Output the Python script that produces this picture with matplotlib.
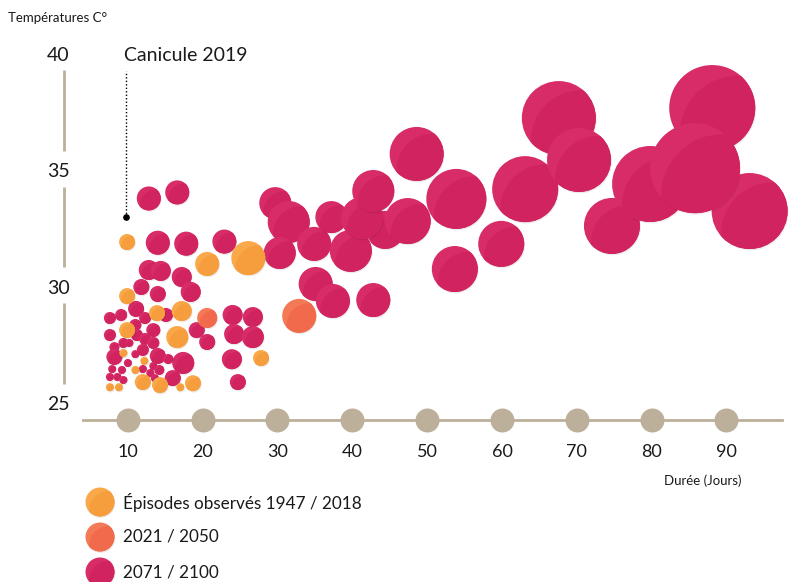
import matplotlib.pyplot as plt
import matplotlib.patheffects as pe
from matplotlib.patches import Circle
from matplotlib.transforms import ScaledTranslation

plt.rcParams['font.family'] = ['Lato', 'DejaVu Sans']

# Episodes observés 1947 / 2018 : durée (jours), température (°C), intensité
obs_duree = [9.9, 20.6, 26.1, 9.9, 13.9, 17.2, 27.8, 9.9, 16.6, 9.4, 12.2, 11.0,
             12.0, 14.3, 18.7, 17.0, 7.6, 8.8]
obs_temp = [31.93, 30.99, 31.24, 29.61, 28.88, 28.97, 26.95, 28.15, 27.85, 27.17,
            26.83, 26.44, 25.92, 25.79, 25.87, 25.70, 25.70, 25.70]
obs_intensite = [8, 12, 17, 8, 8, 10, 8, 8, 11, 4, 4, 4, 8, 8, 8, 4, 4, 4]

# Projection 2021 / 2050
p2050_duree = [20.6, 32.9]
p2050_temp = [28.67, 28.76]
p2050_intensite = [10, 17]

# Projection 2071 / 2100
p2100_duree = [12.8, 16.6, 14.0, 17.8, 22.9, 12.8, 14.4, 17.2, 18.4, 11.8, 14.0, 11.1,
               15.1, 24.0, 26.7, 24.2, 26.7, 24.7, 23.9, 7.6, 9.1, 7.6, 11.0, 12.3,
               13.4, 11.2, 19.2, 20.6, 12.3, 13.4, 8.2, 9.4, 10.2, 12.0, 11.0, 14.0,
               8.2, 17.4, 15.4, 10.0, 7.9, 9.2, 12.0, 13.4, 14.2, 13.0, 7.6, 8.6,
               9.4, 13.6, 16.0,
               29.7, 31.5, 30.3, 34.9, 37.2, 35.1, 37.4, 42.8, 39.8, 44.4, 41.3, 42.8,
               48.6, 53.7, 53.9, 59.9, 63.1, 67.6, 74.7, 79.8, 88.1, 93.1,
               47.4, 70.3, 85.8]
p2100_temp = [33.80, 34.06, 31.90, 31.86, 31.95, 30.73, 30.69, 30.43, 29.79, 30.00,
              29.70, 29.06, 28.80, 28.80, 28.71, 27.98, 27.85, 25.92, 26.90, 28.67,
              28.80, 27.94, 28.37, 28.67, 28.15, 27.94, 28.15, 27.64, 27.77, 27.60,
              27.42, 27.60, 27.60, 27.30, 27.12, 27.04, 27.00, 26.74, 26.91, 26.74,
              26.48, 26.44, 26.48, 26.61, 26.44, 26.31, 26.14, 26.14, 26.01, 26.09,
              26.09,
              33.60, 32.79, 31.46, 31.85, 33.00, 30.13, 29.40, 29.44, 31.55, 32.45,
              32.96, 34.12, 35.71, 30.77, 33.78, 31.85, 34.20, 37.25, 32.62, 34.42,
              37.68, 33.26,
              32.83, 35.45, 35.10]
p2100_intensite = [12, 12, 12, 12, 12, 10, 10, 10, 10, 8, 8, 8, 7, 10, 10, 10, 11, 8,
                   10, 6, 6, 6, 6, 6, 7, 6, 8, 8, 6, 6, 5, 5, 4, 6, 4, 8, 8, 11, 5,
                   4, 4, 4, 4, 4, 5, 4, 4, 4, 4, 4, 8,
                   16, 21, 16, 17, 16, 17, 17, 17, 21, 19, 21, 21, 27, 23, 30, 23, 33,
                   37, 28, 38, 43, 38,
                   23, 32, 45]

canicule_duree = 9.7
canicule_temp = 33.02

xticks = [10, 20, 30, 40, 50, 60, 70, 80, 90]
yticks = [25, 30, 35, 40]

beige = '#bdb09a'
couleurs = {
    'obs': ('#f9a84a', '#f69e3e'),
    '2050': ('#f47a57', '#f06a4b'),
    '2100': ('#d72c68', '#d02360'),
}

fig = plt.figure(figsize=(7.89, 5.82), dpi=100)
ax = fig.add_axes([64 / 789, 162 / 582, 725 / 789, 390 / 582])
ax.set_xlim(1.47, 98.36)
ax.set_ylim(24.29, 41.03)

ordre = [0]


def bulle(x, y, r, cle, trans, parent):
    clair, fonce = couleurs[cle]
    place = ScaledTranslation(x, y, trans)
    z = 3 + ordre[0] * 0.001
    ordre[0] += 1
    base = Circle((0, 0), r, transform=place, facecolor=clair, edgecolor='none', zorder=z)
    base.set_path_effects([pe.SimplePatchShadow(offset=(0.6, -1.0), shadow_rgbFace='k', alpha=0.08),
                           pe.Normal()])
    ombre = Circle((0.6 * r, -0.6 * r), 1.35 * r, transform=place, facecolor=fonce,
                   edgecolor='none', zorder=z + 0.0005)
    ombre.set_clip_path(base)
    if parent is ax:
        ax.add_patch(base)
        ax.add_patch(ombre)
    else:
        fig.add_artist(base)
        fig.add_artist(ombre)


for d, t, i in zip(p2100_duree, p2100_temp, p2100_intensite):
    bulle(d, t, i, '2100', ax.transData, ax)
for d, t, i in zip(obs_duree, obs_temp, obs_intensite):
    bulle(d, t, i, 'obs', ax.transData, ax)
for d, t, i in zip(p2050_duree, p2050_temp, p2050_intensite):
    bulle(d, t, i, '2050', ax.transData, ax)

ax.set_xlim(1.47, 98.36)
ax.set_ylim(24.29, 41.03)

# axes
for s in ['top', 'right', 'left']:
    ax.spines[s].set_visible(False)
ax.spines['bottom'].set_color(beige)
ax.spines['bottom'].set_linewidth(2)
ax.spines['bottom'].set_bounds(4.0, 97.4)
ax.scatter(xticks, [ax.get_ylim()[0]] * len(xticks), s=(24 * 0.72) ** 2, color=beige,
           zorder=2, clip_on=False, linewidths=0)
ax.set_xticks(xticks)
ax.set_xticklabels([str(v) for v in xticks], fontsize=13, color='#1a1a1a')
ax.tick_params(axis='x', length=0, pad=17)

ax.set_yticks(yticks)
ax.set_yticklabels([str(v) for v in yticks], fontsize=14, color='#1a1a1a')
ax.tick_params(axis='y', length=0, pad=-4)
for bas, haut in zip(yticks[:-1], yticks[1:]):
    ax.plot([0, 0], [bas + 0.85, haut - 0.7], color=beige, lw=2,
            transform=ax.get_yaxis_transform(), clip_on=False, solid_capstyle='butt')

# annotation canicule 2019
ax.plot([canicule_duree, canicule_duree], [canicule_temp, 39.25], color='black', lw=1,
        linestyle=(0, (1, 1.5)), zorder=2)
ax.plot(canicule_duree, canicule_temp, 'o', color='black', markersize=3.8, zorder=2)
ax.text(canicule_duree - 0.2, 39.95, 'Canicule 2019', fontsize=14, ha='left', va='center',
        color='#1a1a1a')

fig.text(8 / 789, 1 - 18 / 582, 'Températures C°', fontsize=9.5, ha='left', va='center',
         color='#1a1a1a')
fig.text(741 / 789, 1 - 481 / 582, 'Durée (Jours)', fontsize=9.5, ha='right', va='center',
         color='#1a1a1a')

# légende
legende = [('obs', 'Épisodes observés 1947 / 2018'), ('2050', '2021 / 2050'),
           ('2100', '2071 / 2100')]
for k, (cle, texte) in enumerate(legende):
    yl = 1 - (502 + 35 * k) / 582
    bulle(100 / 789, yl, 14.5, cle, fig.transFigure, fig)
    fig.text(123 / 789, yl, texte, fontsize=12.3, ha='left', va='center', color='#1a1a1a')

fig.savefig('out.png', dpi=100)
